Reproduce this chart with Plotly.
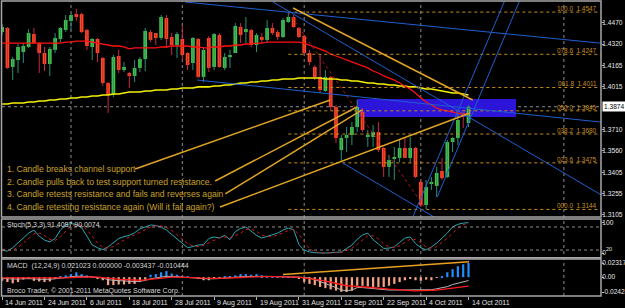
import plotly.graph_objects as go

# ---------------- data ----------------
label_pos = [0, 8, 16, 24, 32, 40, 48, 56, 64, 72, 80, 88]
label_text = ["14 Jun 2011", "24 Jun 2011", "6 Jul 2011", "18 Jul 2011", "28 Jul 2011",
              "9 Aug 2011", "19 Aug 2011", "31 Aug 2011", "12 Sep 2011", "22 Sep 2011",
              "4 Oct 2011", "14 Oct 2011"]
month_grid = [13, 34, 57, 79, 106]

open_ = [1.4405,1.4434,1.4157,1.4206,1.4263,1.4299,1.4391,1.4327,1.4256,1.4178,
         1.4278,1.4356,1.4420,1.4484,1.4533,1.4533,1.4420,1.4299,1.4356,1.4221,
         1.4043,1.3958,1.4235,1.4135,1.4114,1.4093,1.4150,1.4213,1.4405,1.4398,
         1.4363,1.4505,1.4370,1.4313,1.4356,1.4256,1.4185,1.4356,1.4086,1.4363,
         1.4157,1.4384,1.4150,1.4228,1.4256,1.4441,1.4405,1.4420,1.4313,1.4370,
         1.4349,1.4434,1.4405,1.4370,1.4477,1.4512,1.4434,1.4377,1.4256,1.4157,
         1.4086,1.3986,1.4086,1.3872,1.3566,1.3652,1.3673,1.3730,1.3837,1.3659,
         1.3659,1.3694,1.3581,1.3446,1.3503,1.3510,1.3581,1.3510,1.3581,1.3339,
         1.3175,1.3325,1.3311,1.3417,1.3375,1.3623,1.3652,1.3830,1.3758]
high = [1.4462,1.4441,1.4228,1.4320,1.4327,1.4427,1.4434,1.4334,1.4299,1.4299,
        1.4398,1.4441,1.4526,1.4541,1.4569,1.4541,1.4427,1.4363,1.4363,1.4228,
        1.4050,1.4242,1.4278,1.4192,1.4121,1.4206,1.4228,1.4434,1.4420,1.4398,
        1.4526,1.4526,1.4398,1.4405,1.4455,1.4263,1.4370,1.4363,1.4299,1.4377,
        1.4398,1.4398,1.4256,1.4278,1.4469,1.4469,1.4512,1.4427,1.4398,1.4398,
        1.4491,1.4469,1.4420,1.4505,1.4548,1.4526,1.4441,1.4384,1.4278,1.4171,
        1.4242,1.4135,1.4093,1.3886,1.3673,1.3730,1.3766,1.3922,1.3865,1.3709,
        1.3744,1.3766,1.3588,1.3531,1.3588,1.3638,1.3652,1.3659,1.3588,1.3353,
        1.3353,1.3375,1.3446,1.3510,1.3638,1.3659,1.3830,1.3837,1.3886]
low = [1.4384,1.4142,1.4064,1.4114,1.4185,1.4292,1.4320,1.4114,1.4128,1.4093,
       1.4256,1.4334,1.4405,1.4420,1.4484,1.4398,1.4278,1.4206,1.4192,1.4022,
       1.3830,1.3943,1.4114,1.4121,1.4007,1.4050,1.4121,1.4128,1.4334,1.4313,
       1.4349,1.4292,1.4242,1.4221,1.4206,1.4135,1.4135,1.4078,1.4050,1.4121,
       1.4135,1.4150,1.4135,1.4150,1.4256,1.4327,1.4327,1.4299,1.4263,1.4327,
       1.4334,1.4384,1.4349,1.4363,1.4469,1.4434,1.4363,1.4242,1.4171,1.4064,
       1.3972,1.3979,1.3851,1.3616,1.3481,1.3552,1.3602,1.3694,1.3694,1.3588,
       1.3588,1.3552,1.3375,1.3375,1.3353,1.3481,1.3510,1.3474,1.3367,1.3161,
       1.3144,1.3282,1.3232,1.3353,1.3367,1.3552,1.3602,1.3723,1.3730]
close = [1.4441,1.4150,1.4213,1.4299,1.4306,1.4398,1.4327,1.4256,1.4178,1.4285,
         1.4363,1.4434,1.4491,1.4526,1.4519,1.4405,1.4306,1.4356,1.4256,1.4043,
         1.3958,1.4228,1.4135,1.4157,1.4093,1.4150,1.4213,1.4413,1.4349,1.4363,
         1.4512,1.4356,1.4313,1.4391,1.4242,1.4171,1.4363,1.4086,1.4278,1.4150,
         1.4391,1.4157,1.4228,1.4242,1.4448,1.4384,1.4427,1.4313,1.4384,1.4349,
         1.4434,1.4398,1.4370,1.4491,1.4512,1.4441,1.4370,1.4256,1.4192,1.4086,
         1.3993,1.4086,1.3872,1.3652,1.3652,1.3673,1.3730,1.3872,1.3709,1.3673,
         1.3694,1.3566,1.3446,1.3495,1.3517,1.3581,1.3510,1.3581,1.3375,1.3175,
         1.3303,1.3339,1.3403,1.3367,1.3623,1.3652,1.3780,1.3815,1.3874]

ma_red = [1.4327,1.4327,1.4327,1.4327,1.4327,1.4327,1.4327,1.4327,1.4327,1.4327,1.4327,1.4327,1.4334,
          1.4334,1.4341,1.4341,1.4341,1.4334,1.4327,1.4320,1.4313,1.4306,1.4306,1.4299,1.4285,1.4292,
          1.4292,1.4292,1.4292,1.4292,1.4299,1.4299,1.4306,1.4306,1.4306,1.4306,1.4299,1.4299,1.4292,1.4292,1.4299,
          1.4299,1.4306,1.4306,1.4313,1.4313,1.4320,1.4320,1.4327,1.4327,1.4334,1.4334,1.4334,1.4334,1.4334,1.4334,1.4334,
          1.4327,1.4313,1.4299,1.4285,1.4270,1.4249,1.4235,1.4221,1.4206,1.4192,1.4178,1.4164,1.4150,1.4128,
          1.4114,1.4093,1.4078,1.4064,1.4043,1.4022,1.4000,1.3972,1.3936,1.3908,1.3886,1.3865,1.3851,1.3844,1.3837,1.3830,1.3822,1.3822]
ma_yellow = [1.3894,1.3894,1.3901,1.3901,1.3901,1.3908,1.3908,1.3915,1.3915,1.3922,1.3922,1.3929,1.3929,
             1.3936,1.3936,1.3943,1.3943,1.3950,1.3950,1.3958,1.3958,1.3965,1.3965,1.3972,1.3979,
             1.3979,1.3979,1.3986,1.3986,1.3993,1.3993,1.3993,1.4000,1.4000,1.4007,1.4007,1.4007,1.4015,
             1.4015,1.4015,1.4022,1.4022,1.4029,1.4029,1.4036,1.4043,1.4043,1.4050,1.4050,1.4057,1.4057,1.4064,1.4064,
             1.4071,1.4071,1.4071,1.4078,1.4078,1.4078,1.4078,1.4078,1.4071,1.4071,1.4071,1.4064,1.4064,1.4057,
             1.4057,1.4050,1.4043,1.4043,1.4036,1.4036,1.4029,1.4029,1.4022,1.4022,1.4015,1.4015,1.4007,1.4000,
             1.4000,1.3993,1.3986,1.3979,1.3972,1.3972,1.3965,1.3958]

stoch_k = [20,17,26,38,52,64,72,56,46,41,
           50,72,85,89,86,78,56,33,26,21,
           28,38,50,55,58,65,75,80,85,84,
           80,72,60,48,38,26,29,33,34,50,
           54,51,58,47,68,76,80,68,58,51,
           55,58,64,72,77,73,34,20,15,13,
           12,12,13,14,15,24,33,48,59,64,
           47,36,24,25,28,40,51,54,37,26,
           20,28,38,51,64,80,87,90,91.4087]
stoch_d = [22,19,20,27,38,51,62,64,58,48,
           45,54,69,81,86,84,73,56,38,27,
           25,29,38,47,54,59,66,73,80,83,
           83,79,71,60,49,37,31,29,32,39,
           46,52,54,52,57,64,74,74,69,59,
           55,55,59,65,71,74,61,42,23,16,
           13,12,12,13,14,18,24,35,47,57,
           57,49,36,28,26,31,40,48,47,39,
           28,25,29,39,51,64,77,86,90.0074]

macd_hist = [-0.0060,-0.0080,-0.0100,-0.0080,-0.0040,-0.0030,-0.0060,-0.0070,-0.0080,-0.0070,
             -0.0030,0.0010,0.0030,0.0050,0.0080,0.0050,0.0030,0.0010,-0.0020,-0.0050,
             -0.0130,-0.0130,-0.0120,-0.0120,-0.0110,-0.0110,-0.0080,-0.0040,0.0040,0.0050,
             0.0080,0.0100,0.0060,0.0040,0.0020,0.0005,-0.0010,-0.0030,-0.0050,-0.0050,
             -0.0030,-0.0010,0.0010,0.0010,0.0030,0.0050,0.0050,0.0040,0.0050,0.0030,
             0.0020,0.0010,0.0010,0.0010,0.0005,-0.0010,-0.0030,-0.0080,-0.0110,-0.0130,
             -0.0160,-0.0180,-0.0200,-0.0220,-0.0240,-0.0242,-0.0220,-0.0140,-0.0140,-0.0150,
             -0.0160,-0.0160,-0.0160,-0.0140,-0.0110,-0.0080,-0.0050,-0.0030,-0.0050,-0.0060,
             -0.0040,-0.0050,-0.0010,0.0020,0.0080,0.0130,0.0180,0.0210,0.0232]
macd_signal = [-0.0010,-0.0010,-0.0015,-0.0015,-0.0015,-0.0015,-0.0015,-0.0020,-0.0020,-0.0020,
               -0.0020,-0.0015,-0.0010,-0.0005,0.0000,0.0005,0.0005,0.0005,0.0000,-0.0005,
               -0.0015,-0.0025,-0.0035,-0.0040,-0.0045,-0.0050,-0.0050,-0.0045,-0.0035,-0.0025,
               -0.0015,-0.0005,0.0000,0.0000,0.0000,0.0000,-0.0005,-0.0010,-0.0015,-0.0020,
               -0.0020,-0.0020,-0.0015,-0.0015,-0.0010,-0.0005,0.0000,0.0005,0.0010,0.0010,
               0.0010,0.0010,0.0010,0.0010,0.0010,0.0005,0.0000,-0.0010,-0.0020,-0.0035,
               -0.0050,-0.0065,-0.0080,-0.0100,-0.0120,-0.0140,-0.0150,-0.0155,-0.0160,-0.0165,
               -0.0175,-0.0180,-0.0190,-0.0195,-0.0200,-0.0210,-0.0215,-0.0220,-0.0225,-0.0225,
               -0.0220,-0.0215,-0.0210,-0.0200,-0.0190,-0.0180,-0.0170,-0.0155,-0.0145]
macd_main = [-0.0022,-0.0026,-0.0035,-0.0031,-0.0023,-0.0021,-0.0027,-0.0034,-0.0036,-0.0034,
             -0.0026,-0.0013,-0.0004,0.0005,0.0016,0.0015,0.0011,0.0007,-0.0004,-0.0015,
             -0.0041,-0.0051,-0.0059,-0.0064,-0.0067,-0.0072,-0.0066,-0.0053,-0.0027,-0.0015,
             0.0001,0.0015,0.0012,0.0008,0.0004,0.0001,-0.0007,-0.0016,-0.0025,-0.0030,
             -0.0026,-0.0022,-0.0013,-0.0013,-0.0004,0.0005,0.0010,0.0013,0.0020,0.0016,
             0.0014,0.0012,0.0012,0.0012,0.0011,0.0003,0.0000,-0.0005,-0.0015,-0.0040,
             -0.0070,-0.0100,-0.0130,-0.0170,-0.0210,-0.0220,-0.0210,-0.0170,-0.0170,-0.0180,
             -0.0190,-0.0200,-0.0210,-0.0210,-0.0210,-0.0210,-0.0210,-0.0210,-0.0210,-0.0215,
             -0.0215,-0.0205,-0.0190,-0.0175,-0.0155,-0.0120,-0.0095,-0.0075,-0.0055]

price_ticks = [1.4470, 1.4320, 1.4165, 1.4015, 1.3710, 1.3560, 1.3405, 1.3255, 1.3105]
bid = 1.3874

fib_levels = [0.0, 23.6, 38.2, 50.0, 61.8, 78.6, 100.0]
fib_prices = [1.3144, 1.3475, 1.3680, 1.3845, 1.4011, 1.4247, 1.4547]
fib_start = 54

# drawn objects: (x0, y0, x1, y1) in bar index / price
blue_lines = [(34.5, 1.4619, 113.5, 1.4324),
              (36.8, 1.4064, 113.5, 1.3763),
              (51.1, 1.4619, 113.5, 1.3237),
              (64.3, 1.3474, 86.0, 1.2990),
              (77.1, 1.3055, 95.3, 1.4669),
              (82.1, 1.3232, 98.1, 1.4669)]
gold_lines = [(25.1, 1.3431, 61.9, 1.3922),
              (40.2, 1.3346, 66.96, 1.3872),
              (42.1, 1.3254, 67.9, 1.3851),
              (41.1, 1.3161, 88.3, 1.3830),
              (54.9, 1.4576, 88.8, 1.3922)]
fib_diag = (54, 1.4547, 80, 1.3144)
zone = (66.96, 1.3801, 96.96, 1.3929)
macd_trend = (53, 0.0044, 88.1, 0.0253)

notes = ["1. Candle breaks channel support",
         "2. Candle pulls back to test support turned resistance.",
         "3. Candle retests resistance and fails and reverses again",
         "4. Candle retesting resistance again (Will it fail again?)"]

# ---------------- figure ----------------
W, H = 625, 308
n = len(close)
xs = list(range(n))
FONT = "Liberation Sans, Arial, sans-serif"

def px_y(p):
    return 1 - p / H

fig = go.Figure()

up_i = [i for i in xs if close[i] >= open_[i]]
dn_i = [i for i in xs if close[i] < open_[i]]


def wicks(ids):
    wx, wy = [], []
    for i in ids:
        wx += [i, i, None]
        wy += [low[i], high[i], None]
    return wx, wy

for ids, col in [(up_i, "#2a8f78"), (dn_i, "#c8284a")]:
    wx, wy = wicks(ids)
    fig.add_trace(go.Scatter(x=wx, y=wy, mode="lines", line=dict(color=col, width=1),
                             xaxis="x", yaxis="y", hoverinfo="skip", showlegend=False))

body_base = [min(o, c) for o, c in zip(open_, close)]
body_h = [max(abs(c - o), 0.0007) for o, c in zip(open_, close)]
body_col = ["#46c43a" if c >= o else "#ff4a16" for o, c in zip(open_, close)]
fig.add_trace(go.Bar(x=xs, y=body_h, base=body_base, width=0.7,
                     marker=dict(color=body_col, line=dict(width=0)),
                     xaxis="x", yaxis="y", showlegend=False, hoverinfo="skip"))

fig.add_trace(go.Scatter(x=xs, y=ma_yellow, mode="lines", line=dict(color="#f4f000", width=1.6),
                         xaxis="x", yaxis="y", showlegend=False, hoverinfo="skip"))
fig.add_trace(go.Scatter(x=xs, y=ma_red, mode="lines", line=dict(color="#ff1010", width=1.3),
                         xaxis="x", yaxis="y", showlegend=False, hoverinfo="skip"))

# stochastic
fig.add_trace(go.Scatter(x=xs, y=stoch_k, mode="lines", line=dict(color="#2aa8b4", width=1),
                         xaxis="x2", yaxis="y2", showlegend=False, hoverinfo="skip"))
fig.add_trace(go.Scatter(x=xs, y=stoch_d, mode="lines", line=dict(color="#d01818", width=1, dash="dot"),
                         xaxis="x2", yaxis="y2", showlegend=False, hoverinfo="skip"))

# macd
hist_col = ["#1e8fff" if v > 0 else "#f4a284" for v in macd_hist]
fig.add_trace(go.Bar(x=xs, y=macd_hist, width=0.42, marker=dict(color=hist_col, line=dict(width=0)),
                     xaxis="x3", yaxis="y3", showlegend=False, hoverinfo="skip"))
fig.add_trace(go.Scatter(x=xs, y=macd_main, mode="lines", line=dict(color="#b8b8b8", width=1),
                         xaxis="x3", yaxis="y3", showlegend=False, hoverinfo="skip"))
fig.add_trace(go.Scatter(x=xs, y=macd_signal, mode="lines", line=dict(color="#ff1a1a", width=1.3),
                         xaxis="x3", yaxis="y3", showlegend=False, hoverinfo="skip"))

shapes = []
for g in month_grid:
    shapes.append(dict(type="line", xref="x", yref="paper", x0=g, x1=g,
                       y0=px_y(296), y1=px_y(1), layer="below",
                       line=dict(color="#8c8c8c", width=1, dash="dot")))
shapes.append(dict(type="rect", xref="x", yref="y", x0=zone[0], x1=zone[2], y0=zone[1], y1=zone[3],
                   fillcolor="#2c14d8", line=dict(width=0), layer="below"))
shapes.append(dict(type="line", xref="x domain", yref="y", x0=0, x1=1, y0=bid, y1=bid,
                   line=dict(color="#8c8c8c", width=1, dash="dot"), layer="below"))
for fp in fib_prices:
    shapes.append(dict(type="line", xref="x", yref="y", x0=fib_start, x1=113.5, y0=fp, y1=fp,
                       line=dict(color="#c88c1c", width=1, dash="dot")))
shapes.append(dict(type="line", xref="x", yref="y", x0=fib_diag[0], y0=fib_diag[1],
                   x1=fib_diag[2], y1=fib_diag[3], line=dict(color="#b01818", width=1, dash="dot")))
for (a, b, c, d) in blue_lines:
    shapes.append(dict(type="line", xref="x", yref="y", x0=a, y0=b, x1=c, y1=d,
                       line=dict(color="#1f5fd0", width=1)))
for (a, b, c, d) in gold_lines:
    shapes.append(dict(type="line", xref="x", yref="y", x0=a, y0=b, x1=c, y1=d,
                       line=dict(color="#e0a424", width=1.5)))
for lv in [80, 20]:
    shapes.append(dict(type="line", xref="x2 domain", yref="y2", x0=0, x1=1, y0=lv, y1=lv,
                       line=dict(color="#8c8c8c", width=1, dash="dot")))
shapes.append(dict(type="line", xref="x3", yref="y3", x0=macd_trend[0], y0=macd_trend[1],
                   x1=macd_trend[2], y1=macd_trend[3], line=dict(color="#e8a020", width=1.5)))
for (t, b) in [(1, 217), (219, 257.7), (259, 296)]:
    shapes.append(dict(type="rect", xref="paper", yref="paper", x0=1.5 / W, x1=601 / W,
                       y0=px_y(b), y1=px_y(t), line=dict(color="#a8a8a8", width=1.5),
                       fillcolor="rgba(0,0,0,0)"))

ann = []
for t, yy in zip(notes, [169.3, 181.6, 194, 206.5]):
    ann.append(dict(text=t, xref="paper", yref="paper", x=5 / W, y=px_y(yy), xanchor="left",
                    yanchor="middle", showarrow=False, font=dict(family=FONT, size=8.6, color="#caa22a")))
for lv, fp in zip(fib_levels, fib_prices):
    ann.append(dict(text="%05.1f  %.4f" % (lv, fp), xref="x", yref="y", x=112.7, y=fp, xanchor="right",
                    yanchor="middle", yshift=3.5, showarrow=False,
                    font=dict(family=FONT, size=6.4, color="#c89020")))
ann.append(dict(text="Stoch(5,3,3) %.4f %.4f" % (stoch_k[-1], stoch_d[-1]), xref="paper", yref="paper",
                x=5 / W, y=px_y(225), xanchor="left", yanchor="middle", showarrow=False,
                font=dict(family=FONT, size=7, color="#d8d8d8")))
ann.append(dict(text="MACD  (12,24,9) 0.021023 0.000000 -0.003437 -0.010444", xref="paper", yref="paper",
                x=5 / W, y=px_y(266), xanchor="left", yanchor="middle", showarrow=False,
                font=dict(family=FONT, size=7, color="#d8d8d8")))
ann.append(dict(text="Broco Trader, \u00a9 2001-2011 MetaQuotes Software Corp.", xref="paper", yref="paper",
                x=5 / W, y=px_y(290.5), xanchor="left", yanchor="middle", showarrow=False,
                font=dict(family=FONT, size=7, color="#d8d8d8")))
for p, t in zip(label_pos, label_text):
    ann.append(dict(text=t, xref="x3", yref="paper", x=p, y=px_y(302.5), xanchor="left", xshift=1,
                    yanchor="middle", showarrow=False, font=dict(family=FONT, size=7, color="#e0e0e0")))
ann.append(dict(text="%.4f" % bid, xref="paper", yref="y", x=602 / W, y=bid, xanchor="left",
                yanchor="middle", showarrow=False, bgcolor="#ffffff", borderpad=1,
                font=dict(family=FONT, size=6.6, color="#000000")))

x_range = [-0.02, 113.0]
xdom = [2 / W, 601 / W]
xcommon = dict(range=x_range, domain=xdom, showgrid=False, zeroline=False, showticklabels=False,
               showline=False, fixedrange=True)
ycommon = dict(side="right", showgrid=False, zeroline=False, showline=False, ticks="outside",
               ticklen=2, tickcolor="#b0b0b0", ticklabelstandoff=-3,
               tickfont=dict(family=FONT, size=6.6, color="#e8e8e8"),
               automargin=False, fixedrange=True)

fig.update_layout(
    template="none",
    width=W, height=H, margin=dict(l=0, r=0, t=0, b=0),
    paper_bgcolor="#000000", plot_bgcolor="#000000",
    barmode="overlay", showlegend=False,
    font=dict(family=FONT, size=7, color="#e0e0e0"),
    xaxis=dict(anchor="y", **xcommon),
    xaxis2=dict(anchor="y2", matches="x", **xcommon),
    xaxis3=dict(anchor="y3", matches="x", tickmode="array", tickvals=label_pos, ticks="outside",
                ticklen=3, tickcolor="#b0b0b0", **xcommon),
    yaxis=dict(anchor="x", domain=[px_y(217), px_y(1)], range=[1.30901, 1.46259],
               tickmode="array", tickvals=price_ticks, ticktext=["%.4f" % v for v in price_ticks], **ycommon),
    yaxis2=dict(anchor="x2", domain=[px_y(257.7), px_y(219.3)], range=[0, 100],
                tickmode="array", tickvals=[90.4, 12], ticktext=["100", "0"], **ycommon),
    yaxis3=dict(anchor="x3", domain=[px_y(296), px_y(259)], range=[-0.03078, 0.02971],
                tickmode="array", tickvals=[0.02317, 0.0, -0.02424],
                ticktext=["0.02317", "0.00", "-0.02424"], **ycommon),
    shapes=shapes, annotations=ann,
)
# level labels of the stochastic window drawn small beside the axis
fig.add_annotation(text="20", xref="paper", yref="y2", x=604 / W, y=22, xanchor="left", yanchor="middle",
                   showarrow=False, font=dict(family=FONT, size=5.5, color="#e8e8e8"))

fig.write_html("out.html")
